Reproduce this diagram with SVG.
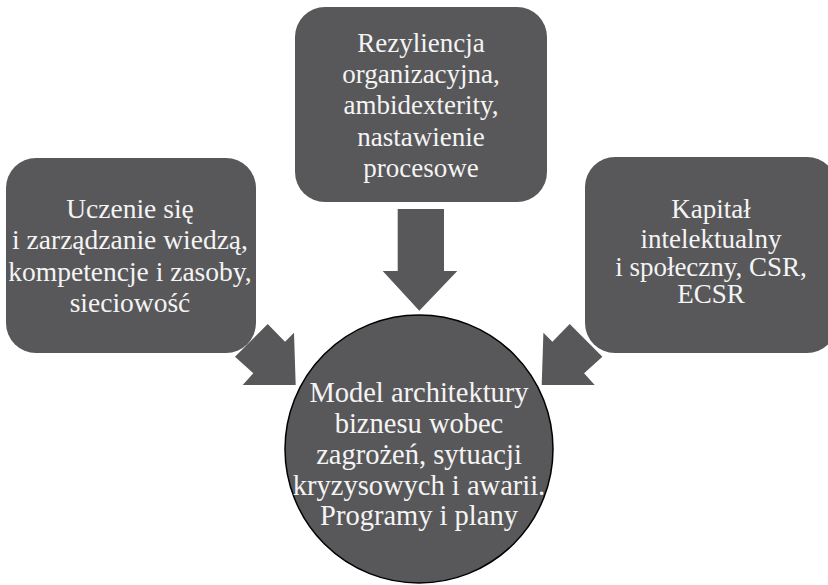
<svg xmlns="http://www.w3.org/2000/svg" width="828" height="585" viewBox="0 0 828 585">
<style>
.box{fill:#58585a;}
.arr{fill:#58585a;}
.circ{fill:#58585a;stroke:#000;stroke-width:1.5;}
text{font-family:"Liberation Serif","Times New Roman",serif;fill:#f4f4f4;text-anchor:middle;font-size:27px;}
#node-left text{font-size:27.5px;}
#node-center text{font-size:28.5px;}
</style>
<rect width="828" height="585" fill="#ffffff"/>
<g id="connectors">
<polygon class="arr" points="397.7,209 444,209 444,271 457.3,271 419.3,310.7 382.7,271 397.7,271"/>
<polygon class="arr" points="267.7,324 285,341.7 294,332.7 295.7,385 242.7,385 253.3,373.3 235,356.7"/>
<polygon class="arr" points="569.7,324 552.4,341.7 543.4,332.7 541.7,385 594.7,385 584.1,373.3 602.4,356.7"/>
</g>
<g id="node-top">
<rect class="box" x="295" y="7" width="252" height="195" rx="30"/>
<text x="421" y="51.7">Rezyliencja</text>
<text x="421" y="83">organizacyjna,</text>
<text x="421" y="114.3">ambidexterity,</text>
<text x="421" y="146">nastawienie</text>
<text x="421" y="176.7">procesowe</text>
</g>
<g id="node-left">
<rect class="box" x="6" y="158" width="250" height="195" rx="30"/>
<text x="130" y="217.7">Uczenie się</text>
<text x="130" y="249.3">i zarządzanie wiedzą,</text>
<text x="130" y="280.7">kompetencje i zasoby,</text>
<text x="130" y="311.7">sieciowość</text>
</g>
<g id="node-right">
<rect class="box" x="585" y="157" width="252" height="196" rx="30"/>
<text x="711" y="217.7">Kapitał</text>
<text x="711" y="247.7">intelektualny</text>
<text x="711" y="276">i społeczny, CSR,</text>
<text x="711" y="303.3">ECSR</text>
</g>
<g id="node-center">
<circle class="circ" cx="419" cy="449" r="134"/>
<text x="419" y="401.7">Model architektury</text>
<text x="419" y="433.3">biznesu wobec</text>
<text x="419" y="464.3">zagrożeń, sytuacji</text>
<text x="419" y="495">kryzysowych i awarii.</text>
<text x="419" y="525">Programy i plany</text>
</g>
</svg>
